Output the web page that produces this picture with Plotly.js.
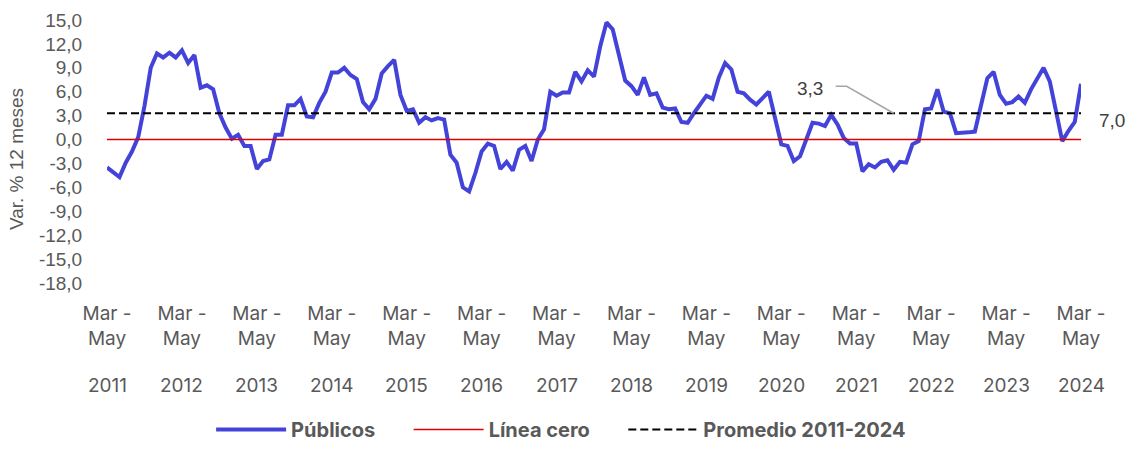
<!DOCTYPE html>
<html><head><meta charset="utf-8">
<script src="https://cdn.plot.ly/plotly-3.0.1.min.js"></script>
<style>html,body{margin:0;padding:0;background:#fff}#chart{width:1137px;height:449px}</style>
</head><body><div id="chart"></div>
<script>
// Rolling 3-month periods, Mar-May 2011 .. Mar-May 2024
const months = ['Ene','Feb','Mar','Abr','May','Jun','Jul','Ago','Sep','Oct','Nov','Dic'];
const startYear = 2011, startMonth = 2, nPeriods = 157;
const periods = [];
for (let i = 0; i < nPeriods; i++) {
  const m = (startMonth + i) % 12;
  const yEnd = startYear + Math.floor((startMonth + i + 2) / 12);
  periods.push(months[m] + '-' + months[(m + 2) % 12] + ' ' + yEnd);
}

// Públicos, var. % 12 meses
const publicos = [
  -3.5,-4.1,-4.7,-2.9,-1.5,0.3,4.2,9.0,10.8,10.3,10.9,10.3,
  11.2,9.6,10.6,6.5,6.8,6.3,3.3,1.5,0.1,0.6,-0.8,-0.8,
  -3.7,-2.7,-2.5,0.6,0.6,4.3,4.3,5.1,2.9,2.8,4.6,6.0,
  8.4,8.4,9.0,8.1,7.6,4.7,3.8,5.1,8.3,9.2,10.0,5.6,
  3.6,3.8,2.1,2.8,2.4,2.7,2.5,-1.9,-2.9,-6.0,-6.5,-4.2,
  -1.5,-0.5,-0.8,-3.7,-2.8,-3.9,-1.3,-0.8,-2.7,0.0,1.3,6.0,
  5.5,5.9,5.9,8.5,7.3,8.7,7.9,11.7,14.7,13.8,10.8,7.4,
  6.7,5.6,7.8,5.6,5.8,4.0,3.8,3.9,2.2,2.1,3.3,4.3,
  5.5,5.1,7.8,9.6,8.8,6.0,5.8,5.0,4.4,5.2,6.0,2.7,
  -0.6,-0.8,-2.7,-2.1,0.0,2.1,2.0,1.7,3.1,1.9,0.2,-0.5,
  -0.5,-4.0,-3.1,-3.5,-2.8,-2.6,-3.8,-2.8,-2.9,-0.6,-0.2,3.8,
  3.9,6.3,3.5,3.3,0.8,0.8,0.9,1.0,4.4,7.7,8.5,5.6,
  4.5,4.7,5.4,4.6,6.3,7.7,9.0,7.3,3.5,-0.2,1.1,2.2,
  7.0
];
const lineaCero = 0;
const promedio = 3.3;
const promedioLabel = '3,3';
const ultimoLabel = '7,0';

const yTickVals = [15,12,9,6,3,0,-3,-6,-9,-12,-15,-18];
const yTickText = ['15,0','12,0','9,0','6,0','3,0','0,0','-3,0','-6,0','-9,0','-12,0','-15,0','-18,0'];
const years = [2011,2012,2013,2014,2015,2016,2017,2018,2019,2020,2021,2022,2023,2024];
const xTickVals = years.map(y => 'Mar-May ' + y);
const xTickText = years.map(() => 'Mar -<br>May');

const grey = '#595959';
const pad = '\u00a0'.repeat(6);
const traces = [
  {x: periods, y: publicos, name: 'Públicos' + pad, type: 'scatter', mode: 'lines',
   line: {color: '#4343DA', width: 4}},
  {x: periods, y: periods.map(() => lineaCero), name: 'Línea cero' + pad, type: 'scatter', mode: 'lines',
   line: {color: '#E00000', width: 1.5}},
  {x: periods, y: periods.map(() => promedio), name: 'Promedio 2011-2024', type: 'scatter', mode: 'lines',
   line: {color: '#000000', width: 2, dash: '8px,4px'}}
];

const annotations = years.map(y => ({
  x: 'Mar-May ' + y, xref: 'x', y: -0.39, yref: 'paper', yanchor: 'middle',
  text: String(y), showarrow: false, font: {family: 'Inter', size: 19, color: grey}
}));
annotations.push({
  x: periods[126], xref: 'x', y: promedio, yref: 'y', text: promedioLabel, showarrow: false,
  xshift: -84, yshift: 25, font: {family: 'Liberation Sans, Arial', size: 19, color: '#404040'}
});
annotations.push({
  x: periods[nPeriods - 1], xref: 'x', y: publicos[nPeriods - 1], yref: 'y', text: ultimoLabel, showarrow: false,
  xshift: 31, yshift: -37, font: {family: 'Liberation Sans, Arial', size: 19, color: '#404040'}
});
annotations.push({
  x: -0.0927, xref: 'paper', y: 0.47, yref: 'paper', text: 'Var. % 12 meses', showarrow: false,
  textangle: -90, xanchor: 'center', yanchor: 'middle',
  font: {family: 'Liberation Sans, Arial', size: 19, color: grey}
});

const shapes = [
  {type: 'path', xref: 'x', yref: 'y', xsizemode: 'pixel', ysizemode: 'pixel',
   xanchor: periods[126], yanchor: promedio, path: 'M -58,27 L -47,27 L 0,0',
   line: {color: '#A6A6A6', width: 1.5}},
  {type: 'path', xref: 'x', yref: 'y', xsizemode: 'pixel', ysizemode: 'pixel',
   xanchor: periods[nPeriods - 1], yanchor: publicos[nPeriods - 1], path: 'M 0,0 L 30,-18',
   line: {color: '#A6A6A6', width: 1.5}}
];

const layout = {
  width: 1137, height: 449,
  margin: {l: 107, r: 56, t: 20, b: 166},
  paper_bgcolor: '#ffffff', plot_bgcolor: '#ffffff',
  showlegend: true,
  legend: {orientation: 'h', xref: 'container', yref: 'container', x: 0.4935, xanchor: 'center',
           y: -0.011, yanchor: 'bottom', borderwidth: 0, tracegroupgap: 0,
           font: {family: 'Inter', size: 20, color: grey, weight: 700}, itemwidth: 70},
  xaxis: {type: 'category', range: [0, nPeriods - 1], tickmode: 'array', tickvals: xTickVals, ticktext: xTickText,
          showgrid: false, zeroline: false, showline: false, ticks: 'outside', ticklen: 13,
          tickcolor: 'rgba(0,0,0,0)', tickangle: 0, automargin: false,
          tickfont: {family: 'Inter', size: 19, color: grey}},
  yaxis: {range: [-18, 15], tickmode: 'array', tickvals: yTickVals, ticktext: yTickText,
          showgrid: false, zeroline: false, showline: false, ticks: 'outside', ticklen: 20,
          tickcolor: 'rgba(0,0,0,0)', automargin: false,
          tickfont: {family: 'Liberation Sans, Arial', size: 19, color: grey}},
  annotations: annotations,
  shapes: shapes
};

Plotly.newPlot('chart', traces, layout, {displayModeBar: false, staticPlot: true});
</script>
</body></html>
